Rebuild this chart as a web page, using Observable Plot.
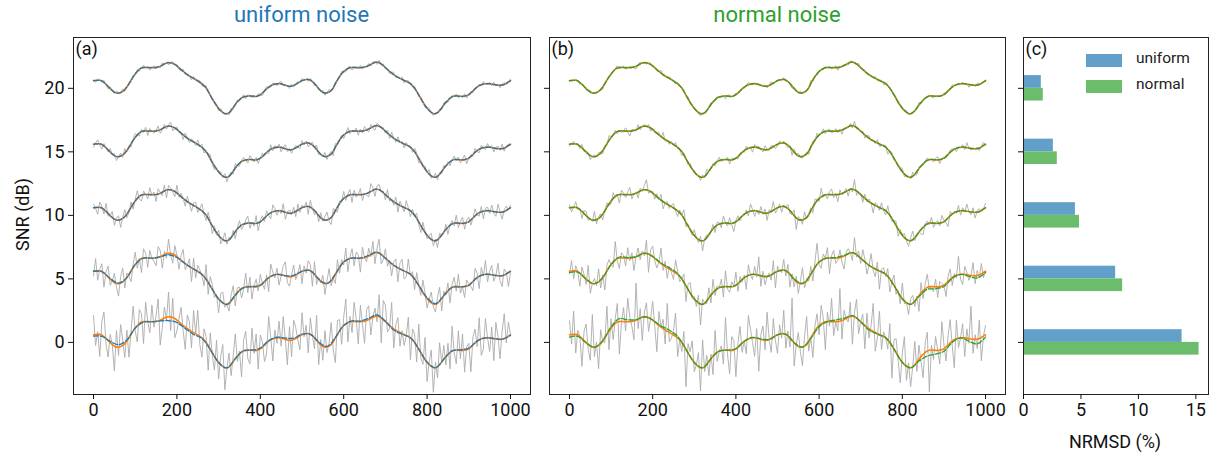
<!DOCTYPE html>
<html><head><meta charset="utf-8">
<script src="https://cdn.jsdelivr.net/npm/d3@7"></script>
<script src="https://cdn.jsdelivr.net/npm/@observablehq/plot@0.6"></script>
<style>
body{margin:0;background:#fff;font-family:Roboto,"DejaVu Sans",sans-serif;}
#wrap{position:relative;width:1221px;height:460px;overflow:hidden;background:#fff;}
.pan{position:absolute;top:0;}
.title{position:absolute;top:2px;font-size:22px;text-align:center;}
.lab{position:absolute;font-size:18px;color:#111;white-space:nowrap;}
.key{position:absolute;width:36px;height:13px;}
.keyt{position:absolute;font-size:15.5px;color:#222;}
</style></head><body>
<div id="wrap">
  <div class="title" style="left:73px;width:457px;color:#1f77b4">uniform noise</div>
  <div class="title" style="left:549px;width:456px;color:#2ca02c">normal noise</div>
  <div id="pa" class="pan" style="left:0px"></div>
  <div id="pb" class="pan" style="left:540px"></div>
  <div id="pc" class="pan" style="left:1015px"></div>
  <div class="lab" style="left:-18px;top:204px;transform:rotate(-90deg);width:80px;text-align:center">SNR (dB)</div>
  <div class="lab" style="left:1065px;top:431px;width:100px;text-align:center">NRMSD (%)</div>
  <div class="key" style="left:1086px;top:54px;background:#62a0ca"></div>
  <div class="keyt" style="left:1136px;top:49px">uniform</div>
  <div class="key" style="left:1086px;top:80px;background:#6bbc6b"></div>
  <div class="keyt" style="left:1136px;top:75px">normal</div>
</div>
<script>
// SNR levels (dB) of the five traces, top to bottom
const levels = [20, 15, 10, 5, 0];
// NRMSD (%) per level
const nrmsdUniform = [1.55, 2.6, 4.52, 8.02, 13.8];
const nrmsdNormal  = [1.72, 2.94, 4.87, 8.63, 15.28];
const xTicks = [0, 200, 400, 600, 800, 1000];
const yTicks = [0, 5, 10, 15, 20];
const nrmsdTicks = [0, 5, 10, 15];
// sample positions (every 5 samples) and the underlying signal shape (dB, relative to level)
const sampleStep = 5;
const base = [
0.60,0.62,0.63,0.63,0.58,0.45,0.32,0.15,-0.02,-0.17,
-0.30,-0.37,-0.38,-0.33,-0.24,-0.10,0.10,0.36,0.64,0.90,
1.13,1.33,1.50,1.60,1.64,1.65,1.64,1.63,1.63,1.63,
1.64,1.68,1.74,1.82,1.92,1.99,2.02,2.01,1.96,1.88,
1.76,1.62,1.47,1.33,1.20,1.08,0.97,0.87,0.78,0.69,
0.58,0.47,0.36,0.20,0.02,-0.24,-0.55,-0.83,-1.10,-1.35,
-1.58,-1.76,-1.90,-1.99,-2.00,-1.93,-1.75,-1.52,-1.28,-1.06,
-0.90,-0.76,-0.69,-0.64,-0.61,-0.60,-0.61,-0.64,-0.64,-0.59,
-0.50,-0.37,-0.21,-0.05,0.09,0.20,0.28,0.33,0.36,0.37,
0.35,0.30,0.24,0.19,0.16,0.17,0.23,0.31,0.41,0.51,
0.60,0.66,0.70,0.70,0.64,0.52,0.38,0.18,-0.02,-0.20,
-0.32,-0.37,-0.36,-0.29,-0.17,0.05,0.37,0.65,0.93,1.15,
1.33,1.45,1.55,1.62,1.64,1.64,1.63,1.63,1.63,1.64,
1.67,1.72,1.80,1.88,1.97,2.05,2.06,2.02,1.92,1.78,
1.63,1.48,1.33,1.20,1.07,0.96,0.87,0.78,0.70,0.62,
0.54,0.47,0.37,0.20,0.01,-0.24,-0.52,-0.80,-1.08,-1.34,
-1.56,-1.75,-1.89,-1.98,-2.00,-1.92,-1.76,-1.55,-1.32,-1.12,
-0.94,-0.78,-0.67,-0.61,-0.60,-0.61,-0.63,-0.63,-0.61,-0.57,
-0.50,-0.36,-0.20,-0.04,0.10,0.21,0.28,0.33,0.36,0.37,
0.36,0.33,0.30,0.27,0.25,0.24,0.25,0.30,0.39,0.50,
0.60];
// estimate deviations (dB) every 20 samples for the noisier levels
const estStep = 20;
const devUniform0 = [-0.1,-0.1,0.1,0.2,0.1,0,-0.05,0,-0.05,-0.3,-0.2,-0.1,-0.15,-0.05,0,0,0,0,0.05,0,0.05,0.05,0.05,0.1,0.1,0.05,0,0.05,0.05,0,0,0.05,0.05,0.1,0.1,0.05,-0.1,-0.05,0,0,0,0,0,0,0.05,0.05,0,0,0,0,-0.05];
const devUniform5 = [0,0,0.05,0.05,0,0,0,0,0,-0.12,-0.08,0,0,0,0,0,0,0,0,0,0,0,0,0,0.05,0,0,0,0,0,0,0,0,0.05,0.05,0,0,0,0,0,0.08,0.05,0,0,0,0,0,0,0,0,0];
const devNormal0 = [-0.18,-0.1,0,0,0.05,0.1,0.24,0.15,0.05,0,0,0.1,0.18,0.1,0,0,0,0,0,0,0,0,0.03,0.03,0,0,0,0,0,-0.05,-0.1,0,0.13,0.1,0.05,0,-0.1,-0.05,0,0,0,0,-0.15,-0.4,-0.3,-0.2,-0.1,0,-0.2,-0.37,-0.18];
const devNormal5 = [-0.1,-0.05,0,0,0,0,0.08,0.05,0,0,0,0.05,0.1,0.05,0,0,0,0,0,0,0,0,0,0,0,0,0,0,0,0,0,0,0.05,0.05,0,0,0,0,0,0,0,0,-0.05,-0.15,-0.15,-0.1,-0.05,0,-0.1,-0.18,-0.1];
// noise readings, in ninths of each trace's noise scale
const noiseU20 = [3,-7,5,1,-4,8,-2,-9,6,0,-5,7,2,-3,9,-6,4,-1,-8,5,-2,6,-7,1,8,-4,3,-9,0,7,-5,2,-6,9,-3,4,-8,1,6,-1,5,-7,-2,8,-5,0,3,-9,7,-4,2,6,-8,-1,9,-3,4,-6,1,5,-9,7,0,-2,3,-7,8,-5,2,6,-4,-1,9,-8,4,1,-6,5,-3,7,0,-9,3,8,-2,-5,6,1,-7,4,9,-4,-1,2,-8,7,-6,3,5,-2,8,-3,0,-7,6,2,-9,4,-5,1,7,-8,3,9,-1,-6,5,0,-4,8,-2,-7,4,6,-9,1,3,-5,8,-3,2,-1,7,-6,5,0,-8,9,-4,6,-3,1,-7,4,8,-5,2,-2,9,-9,3,6,-1,-4,7,0,-6,5,1,-8,2,8,-3,-7,4,-1,6,-5,9,3,-8,0,5,-2,7,-6,1,-4,8,-9,3,4,-7,2,-1,6,-5,9,0,-3,5,-6,8,-2,1,-9,4,7,-4,0,6];
const noiseU15 = [-6,2,8,-3,-9,5,1,-4,7,-1,4,-8,0,6,-5,9,-2,3,-7,2,8,-1,-6,4,-3,7,-9,5,0,-4,1,9,-7,-2,6,-5,3,8,-8,-1,5,-3,2,-9,7,0,-6,4,1,-5,9,-2,6,-7,-1,3,8,-4,-8,2,0,5,-3,7,-9,1,4,-6,9,-2,-5,3,6,-1,-7,8,2,-4,5,-8,1,7,-3,0,-6,9,-5,4,-2,6,-9,2,8,-4,3,-7,1,5,-1,-6,7,-3,4,-8,0,6,-2,9,-5,2,-1,8,-6,3,5,-9,7,-3,1,4,-7,0,9,-5,2,-2,6,-8,4,-4,8,1,-6,7,-3,-9,5,2,-1,3,-4,6,-7,9,0,-5,8,-2,3,-8,5,-1,2,-6,7,4,-9,1,-3,6,-2,9,-5,0,8,-7,3,-4,6,-1,4,-8,1,7,-3,5,-6,2,9,-9,0,3,-4,8,-2,-7,6,1,-5,7,-1,4,-8,2,5,-3,9,-6,0,3,-2];
const noiseU10 = [4,-1,-8,6,2,-5,9,-3,0,7,-7,3,5,-9,1,8,-4,-2,6,-6,2,9,-3,-7,4,0,-5,8,-1,3,-8,6,1,-4,7,-9,5,2,-2,-6,9,-3,4,0,-7,6,-1,-8,3,5,-5,1,8,-2,-6,7,2,-9,4,-3,6,-7,0,9,-4,3,-1,5,-8,1,7,-5,-2,4,8,-6,1,-3,9,-9,2,5,-4,6,-1,-7,8,3,-5,0,-3,9,-8,1,4,-2,6,-6,7,-4,3,-1,5,-9,8,0,-5,2,-7,6,-2,4,9,-3,-8,7,1,-6,3,-1,8,-4,2,6,-9,5,-3,0,7,-7,1,-2,-5,9,3,-8,4,6,-1,2,-6,8,-3,1,-4,7,-9,5,0,-5,9,2,-7,4,-1,6,-3,-8,8,1,-4,3,7,-6,2,-9,5,0,-2,6,-8,1,4,-3,9,-5,2,7,-7,3,5,-6,0,8,-1,-4,6,-9,3,4,-3,7,-2,-5,9,1,-8,2,5,-1,3];
const noiseU5 = [-3,8,-6,1,5,-9,2,7,-4,0,6,-2,-8,4,9,-5,3,-1,-7,2,8,-4,1,-9,6,3,-6,5,0,-2,-5,7,4,-8,2,-3,9,-1,-6,6,1,-7,3,8,-4,0,5,-9,7,-5,4,2,-1,-6,9,-8,6,3,-3,1,-9,5,7,-2,0,-5,4,8,-7,3,2,-6,-1,9,-4,6,-8,1,5,-3,7,0,-5,3,-9,8,2,-2,4,-7,-1,6,9,-4,-6,1,7,-3,0,5,-8,3,-2,6,4,-9,8,-5,1,-1,5,-7,2,9,-3,0,-6,7,-4,3,-2,8,-8,1,6,-5,4,2,-9,7,0,-3,5,-1,8,-7,3,9,-6,-2,6,-4,1,-8,2,5,-9,4,7,-5,-3,9,-1,3,-7,6,0,-4,8,2,-6,1,7,-2,-5,4,9,-8,3,-1,5,-9,2,6,-3,8,-4,0,-7,4,1,-2,-6,7,3,-8,5,-1,9,-5,2,6,-4,0,8,-3,-7,4,1,-9,-1];
const noiseU0 = [7,-4,1,-8,5,9,-2,-6,3,0,-9,6,-3,8,2,-5,4,-7,1,9,-1,-6,5,3,-8,7,0,-4,6,-2,2,8,-9,-3,4,-1,9,-5,7,-7,-4,1,6,-2,-8,5,3,-6,8,0,9,-3,-7,4,2,-9,6,-1,-5,7,-6,3,8,-8,0,5,-4,2,9,-2,1,-9,4,7,-3,-5,8,-1,6,-7,5,2,-6,-4,9,1,-8,3,-2,6,-3,8,0,-9,5,-6,7,4,-1,-5,8,-1,3,-7,6,0,-4,9,-8,2,-5,6,-2,1,8,-3,-9,5,4,-6,3,9,-7,2,-4,7,1,-8,6,-1,-8,4,5,-6,0,3,-2,8,-9,7,6,-3,-1,9,-7,2,5,-5,1,-4,0,7,-8,4,3,-6,9,-2,-3,8,-7,1,6,-9,2,-4,8,0,5,-3,4,-6,9,-1,-5,7,-3,6,-8,1,2,-9,3,5,-2,8,-6,-4,7,0,-5,4,-8,6,1,-7,3,9,-2,5,0];
const noiseN20 = [1,-2,0,3,-1,-4,2,1,-3,0,4,-1,2,-2,0,1,-5,3,-1,2,-3,0,1,5,-2,-1,3,-4,0,2,1,-2,-6,2,4,-1,0,-3,1,3,-2,2,-1,0,6,-3,1,-2,4,-1,0,-4,3,1,-2,2,-1,5,-3,0,2,1,-2,-5,3,0,-1,2,4,-3,-1,3,0,-2,1,-7,2,3,-1,0,4,-2,1,2,-3,0,5,-1,-2,1,-3,2,-1,0,3,-4,1,6,-2,-1,2,0,-3,4,-1,1,-2,-5,3,2,-1,3,1,-2,0,-3,7,-1,2,-4,0,1,-2,3,-1,2,-3,0,4,-6,1,-1,2,0,-4,3,1,-2,-1,5,-2,0,3,-3,1,2,-1,4,-2,0,3,-5,-1,2,0,-2,1,3,-4,1,-1,2,4,-3,0,1,-2,-1,6,-3,2,0,-1,3,-2,-4,1,2,0,-1,4,-2,1,-3,5,0,-1,2,-2,3,-1,1,-6,0,2,-3,4,1,-1,0,2];
const noiseN15 = [-2,1,3,-1,0,-3,4,-2,1,2,-5,0,2,-1,3,1,-4,2,-2,6,0,-1,3,-3,1,-2,0,4,-1,-6,2,1,-2,5,-3,0,2,-1,3,-4,1,-2,0,3,-1,7,-2,1,-3,2,-1,4,-2,0,-5,2,1,-3,3,0,2,-1,1,-4,3,-2,6,0,-1,2,-3,1,4,-2,0,-1,3,-5,2,1,0,-3,2,1,-2,4,-1,0,-6,3,1,2,-1,-3,5,0,-2,3,1,-4,-2,3,0,2,-1,-3,1,-7,4,0,3,-1,-2,1,2,-4,0,3,-1,5,-1,0,4,-3,1,2,-2,-1,3,-2,2,-5,1,0,-1,3,-3,6,-2,1,0,2,-4,1,3,-1,0,-2,4,-3,-1,1,2,-6,0,3,-2,1,-1,2,4,-3,0,1,-2,5,-1,-4,2,0,-2,1,3,-1,0,-3,2,4,-5,1,1,-2,-1,3,2,0,-4,1,-1,3,-3,6,0,-2,1,-1,2,-3,0,4,-1];
const noiseN10 = [2,-3,0,4,-1,1,-5,2,3,-2,0,-1,6,-3,1,2,-4,0,3,-1,-2,4,-1,0,-6,3,1,-2,2,5,-3,0,1,-4,2,-1,3,7,-2,0,1,-3,2,-1,4,-5,0,2,-2,1,3,-1,-4,2,0,6,-3,1,-1,-2,4,0,-2,3,-7,1,2,-1,0,3,-4,2,1,-3,5,0,-2,4,-1,-6,1,3,-2,0,-1,2,-3,5,1,-4,0,-2,4,-1,3,-5,2,0,6,-3,-1,2,-4,1,0,3,-2,-1,4,-8,2,1,-3,5,-1,0,2,-4,3,1,-2,6,-1,0,-3,2,4,-2,1,-5,3,-1,0,2,-4,1,-2,7,-3,0,1,-4,3,-1,2,0,-6,2,1,-2,4,-1,-3,5,0,-2,1,3,-5,2,0,3,-1,-4,2,6,-2,1,0,-3,-5,1,2,-1,4,-3,0,2,-2,5,1,-2,-6,3,0,1,-1,4,-3,2,-1,5,0,-2,3,-4,1,2,-1,0,3];
const noiseN5 = [-1,4,-3,2,0,-5,3,1,-2,6,-4,0,2,-1,5,-3,1,-6,2,3,0,-2,7,-1,-4,2,1,-3,4,-1,2,-5,0,3,-2,1,-1,5,-7,2,4,-1,-3,0,6,-2,2,-4,1,-1,-3,5,1,-2,0,3,-6,2,4,-1,1,-2,3,-8,2,0,-1,4,-3,5,-2,1,0,3,-4,6,-1,-2,2,0,5,-3,2,-1,1,-5,4,0,-2,3,-1,7,-4,2,-3,0,1,-2,5,-6,2,0,-1,4,-2,3,-5,1,-3,2,-4,1,6,-2,0,-1,3,-4,2,8,-1,-3,2,0,4,-6,1,3,-2,-1,3,-2,-5,1,2,0,-3,6,-1,2,-2,4,1,-4,0,5,-1,-3,3,-7,1,2,-1,3,-5,0,4,-2,1,-3,6,-1,0,-4,2,3,-2,1,-6,4,-3,2,5,-1,0,-2,3,-4,2,1,0,-5,2,4,-3,1,-1,7,-2,-4,3,1,-2,0,5,-3,2,-1,4,-2,0];
const noiseN0 = [3,-2,5,-4,1,0,-6,2,4,-1,-3,7,-2,1,-5,3,0,-1,6,-4,2,-3,1,4,-7,0,3,-2,5,1,-1,-4,8,-2,2,-5,1,3,-3,0,4,-1,-6,3,0,2,-3,6,-2,-1,1,5,-4,0,-2,3,-8,2,1,4,-2,0,3,-5,6,-1,2,-3,1,-4,5,-2,0,1,-3,7,-1,-5,3,2,-6,1,4,-2,0,-3,5,2,-1,-4,2,-7,1,3,-2,6,0,-3,4,-1,-4,2,-1,5,-3,1,-2,9,-5,0,3,-1,-4,2,6,-2,0,-5,1,3,-2,4,1,-6,2,-1,5,-3,0,-2,7,-4,2,0,-1,3,-6,1,4,-3,0,2,-5,3,-2,1,6,-4,-1,5,-3,1,0,-2,4,-7,2,3,-1,-5,2,6,-3,1,-4,0,5,-2,3,-1,-5,2,4,-9,1,-2,3,0,-3,6,1,-3,2,5,-1,-6,4,-2,0,3,-4,2,-1,7,-3,1,-2,4,-5,0,2];
// noise scale (dB per 9 units) per level
const scaleUniform = [0.20, 0.36, 0.62, 1.10, 1.95];
const scaleNormal  = [0.32, 0.58, 1.02, 1.85, 3.3];

const noiseUniform = [noiseU20, noiseU15, noiseU10, noiseU5, noiseU0];
const noiseNormal  = [noiseN20, noiseN15, noiseN10, noiseN5, noiseN0];
const devsUniform = {5: devUniform5, 0: devUniform0};
const devsNormal  = {5: devNormal5, 0: devNormal0};

const FONT = "Roboto, 'DejaVu Sans', sans-serif";
const yDomain = [-4.1, 24.0];

function buildSeries(noiseSets, scales, devs) {
  const gray = [], truth = [], est = [];
  levels.forEach((L, k) => {
    base.forEach((b, i) => {
      const t = i * sampleStep;
      gray.push({t, v: b + L + noiseSets[k][i] * scales[k] / 9, L});
      truth.push({t, v: b + L, L});
    });
    const dev = devs[L];
    if (dev) {
      dev.forEach((d, j) => {
        const t = j * estStep;
        est.push({t, v: base[t / sampleStep] + L + d, L});
      });
    } else {
      base.forEach((b, i) => est.push({t: i * sampleStep, v: b + L, L}));
    }
  });
  return {gray, truth, est};
}

function seriesPanel(series, estColor, tag, showYLabels, width, ml, mr) {
  return Plot.plot({
    width, height: 460,
    marginLeft: ml, marginRight: mr, marginTop: 37, marginBottom: 66,
    style: {fontSize: "18px", fontFamily: FONT, color: "#111", background: "transparent"},
    x: {domain: [-48, 1048]},
    y: {domain: yDomain},
    marks: [
      Plot.line(series.gray, {x: "t", y: "v", z: "L", stroke: "#ababab", strokeWidth: 0.9, clip: true}),
      Plot.line(series.truth, {x: "t", y: "v", z: "L", stroke: "#ff7f0e", strokeWidth: 1.6, curve: "catmull-rom"}),
      Plot.line(series.est, {x: "t", y: "v", z: "L", stroke: estColor, strokeWidth: 1.3, strokeDasharray: "5,2", curve: "catmull-rom"}),
      Plot.frame({stroke: "#222", strokeWidth: 1}),
      Plot.axisY({ticks: yTicks, tickSize: 5, tickPadding: 4, label: null,
                  tickFormat: showYLabels ? (d => String(d)) : (() => "")}),
      Plot.axisX({ticks: xTicks, tickSize: 5, tickPadding: 4, label: null, tickFormat: d => String(d)}),
      Plot.text([tag], {text: d => d, frameAnchor: "top-left", dx: 2, dy: 5, textAnchor: "start", lineAnchor: "top", fontSize: 18})
    ]
  });
}

const sa = buildSeries(noiseUniform, scaleUniform, devsUniform);
const sb = buildSeries(noiseNormal, scaleNormal, devsNormal);
document.getElementById("pa").append(seriesPanel(sa, "#1f77b4", "(a)", true, 540, 73, 10));
document.getElementById("pb").append(seriesPanel(sb, "#2ca02c", "(b)", false, 475, 9, 10));

const bars = [];
levels.forEach((L, k) => {
  bars.push({L, kind: "uniform", val: nrmsdUniform[k], y1: L, y2: L + 1});
  bars.push({L, kind: "normal", val: nrmsdNormal[k], y1: L - 1, y2: L});
});
document.getElementById("pc").append(Plot.plot({
  width: 206, height: 460,
  marginLeft: 8, marginRight: 13, marginTop: 37, marginBottom: 66,
  style: {fontSize: "18px", fontFamily: FONT, color: "#111", background: "transparent"},
  x: {domain: [0, 16.1]},
  y: {domain: yDomain},
  color: {domain: ["uniform", "normal"], range: ["#62a0ca", "#6bbc6b"]},
  marks: [
    Plot.rect(bars, {x1: () => 0, x2: "val", y1: "y1", y2: "y2", fill: "kind"}),
    Plot.frame({stroke: "#222", strokeWidth: 1}),
    Plot.axisY({ticks: yTicks, tickSize: 5, label: null, tickFormat: () => ""}),
    Plot.axisX({ticks: nrmsdTicks, tickSize: 5, tickPadding: 4, label: null}),
    Plot.text(["(c)"], {text: d => d, frameAnchor: "top-left", dx: 2, dy: 5, textAnchor: "start", lineAnchor: "top", fontSize: 18})
  ]
}));
</script>
</body></html>
